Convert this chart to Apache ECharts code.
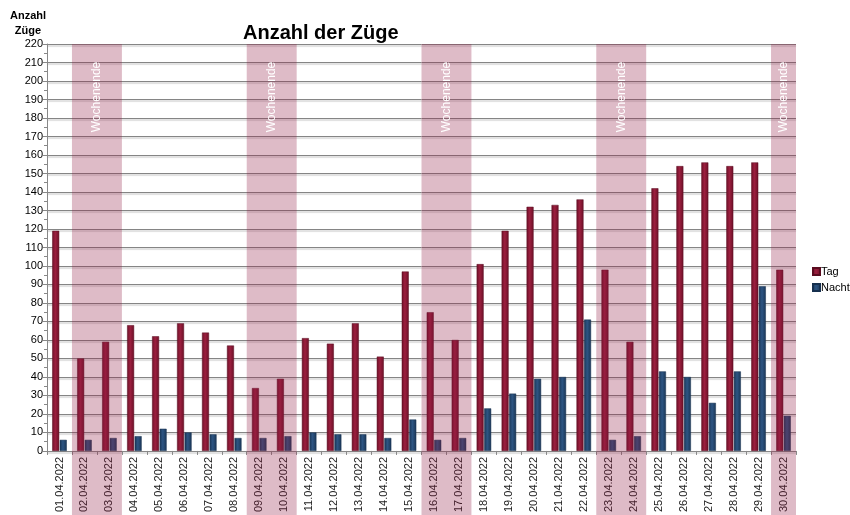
<!DOCTYPE html>
<html>
<head>
<meta charset="UTF-8">
<title>Anzahl der Züge</title>
<script type="text/javascript" src="https://cdn.jsdelivr.net/npm/echarts@6/dist/echarts.min.js"></script>
<style>
html,body{margin:0;padding:0;background:#fff;}
</style>
</head>
<body>
<div id="main" style="width:850px;height:515px;"></div>

<script type="text/javascript">
// Tage
var days = ['01.04.2022','02.04.2022','03.04.2022','04.04.2022','05.04.2022','06.04.2022','07.04.2022','08.04.2022',
  '09.04.2022','10.04.2022','11.04.2022','12.04.2022','13.04.2022','14.04.2022','15.04.2022','16.04.2022',
  '17.04.2022','18.04.2022','19.04.2022','20.04.2022','21.04.2022','22.04.2022','23.04.2022','24.04.2022',
  '25.04.2022','26.04.2022','27.04.2022','28.04.2022','29.04.2022','30.04.2022'];
// Züge am Tag / in der Nacht
var tag = [119,50,59,68,62,69,64,57,34,39,61,58,69,51,97,75,60,101,119,132,133,136,98,59,142,154,156,154,156,98];
var nacht = [6,6,7,8,12,10,9,7,7,8,10,9,9,7,17,6,7,23,31,39,40,71,6,8,43,40,26,43,89,19];
// Wochenenden: erster und letzter Tag (Index)
var weekends = [[1,2],[8,9],[15,16],[22,23],[29,29]];
var weekendLabel = 'Wochenende';

function barColor(c1, c2){
  return new echarts.graphic.LinearGradient(0,0,1,0,[
    {offset:0, color:c2},{offset:0.45, color:c1},{offset:1, color:c2}
  ]);
}

var mychart = echarts.init(document.getElementById('main'));

var option = {
  animation: false,
  textStyle: {fontFamily: 'Liberation Sans, Arial, sans-serif'},
  title: {
    text: 'Anzahl der Züge',
    left: 238, top: 18,
    textStyle: {fontSize: 20, fontWeight: 'bold', color: '#000'}
  },
  legend: {
    data: ['Tag','Nacht'],
    orient: 'vertical',
    left: 807, top: 261,
    itemWidth: 7, itemHeight: 7, itemGap: 5,
    icon: 'rect',
    textStyle: {fontSize: 11, color: '#000', padding: [0,0,0,-4]}
  },
  grid: {left: 47, right: 54, top: 44, bottom: 62},
  xAxis: {
    type: 'category',
    data: days,
    axisLine: {lineStyle: {color: '#888'}},
    axisTick: {show: true, length: 4, lineStyle: {color: '#888'}},
    axisLabel: {rotate: 90, fontSize: 11, color: '#222', margin: 6, interval: 0}
  },
  yAxis: {
    type: 'value',
    min: 0, max: 220, interval: 10,
    name: 'Anzahl\nZüge',
    nameLocation: 'end',
    nameGap: 6,
    nameTextStyle: {fontSize: 11, fontWeight: 'bold', color: '#000', align: 'center', lineHeight: 15, padding: [0,38,0,0]},
    axisLine: {show: true, lineStyle: {color: '#888'}},
    axisTick: {show: true, length: 4, lineStyle: {color: '#888'}},
    minorTick: {show: true, splitNumber: 2, length: 3, lineStyle: {color: '#888'}},
    axisLabel: {fontSize: 11, color: '#000', margin: 4},
    splitLine: {lineStyle: {color: '#858585', width: 1, shadowColor: 'rgba(0,0,0,0.25)', shadowOffsetY: 1.5, shadowBlur: 1}}
  },
  series: [{
    name: 'Tag',
    type: 'bar',
    data: tag,
    barWidth: '28%',
    barGap: '8%',
    itemStyle: {color: barColor('#9c1f3f','#6c1027'), borderColor: '#5a0c20', borderWidth: 0.5}
  },{
    name: 'Nacht',
    type: 'bar',
    data: nacht,
    barWidth: '28%',
    itemStyle: {color: barColor('#2d5583','#1a3656'), borderColor: '#16304e', borderWidth: 0.5}
  },{
    type: 'custom',
    z: 10,
    silent: true,
    clip: false,
    data: weekends,
    encode: {x: [0,1]},
    renderItem: function(params, api){
      var cs = params.coordSys;
      var s = api.coord([api.value(0), 0]);
      var e = api.coord([api.value(1), 0]);
      var w = api.size([1, 0])[0];
      var x0 = s[0] - w / 2;
      var x1 = Math.min(e[0] + w / 2, cs.x + cs.width);
      return {
        type: 'group',
        children: [{
          type: 'rect',
          shape: {x: x0, y: cs.y, width: x1 - x0, height: api.getHeight() - cs.y},
          style: {fill: 'rgba(145,30,70,0.3)'}
        },{
          type: 'text',
          x: (x0 + x1) / 2,
          y: cs.y + 53,
          rotation: Math.PI / 2,
          style: {text: weekendLabel, fill: '#fff', fontSize: 12, align: 'center', verticalAlign: 'middle',
            fontFamily: 'Liberation Sans, Arial, sans-serif'}
        }]
      };
    }
  }]
};

mychart.setOption(option);
</script>
</body>
</html>
